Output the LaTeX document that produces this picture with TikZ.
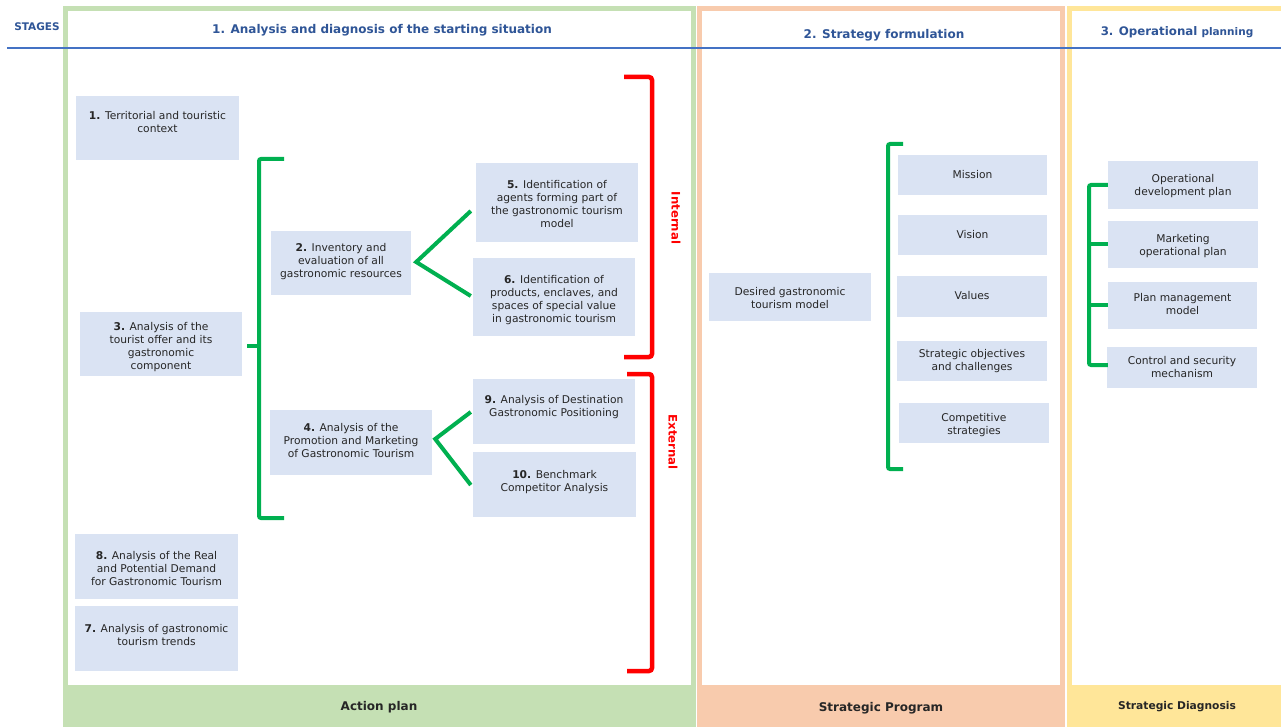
\documentclass[tikz,border=0pt]{standalone}
\usepackage{fontspec}
\setmainfont{DejaVu Sans}
\usetikzlibrary{fit,calc}
\definecolor{pgreen}{HTML}{C5E0B4}
\definecolor{porange}{HTML}{F8CBAD}
\definecolor{pyellow}{HTML}{FFE699}
\definecolor{boxfill}{HTML}{DAE3F3}
\definecolor{brgreen}{HTML}{00B050}
\definecolor{hblue}{HTML}{2F5597}
\definecolor{lblue}{HTML}{4472C4}
\definecolor{txtc}{HTML}{262626}
\newcommand\gbox[7]{%
  \node[bxs, fit={(#2,#3) (#4,#5)}] (#1) {};
  \node[txt] (#1t) at ({(#2+#4)/2},#6) {#7};}
\begin{document}
\begin{tikzpicture}[x=1pt,y=-1pt,
  bxs/.style={fill=boxfill, inner sep=0pt, draw=none},
  txt/.style={align=center, inner sep=0pt, text=txtc, font=\fontsize{10.7}{13}\selectfont},
  hdr/.style={text=hblue, font=\fontsize{12}{14}\selectfont\bfseries, inner sep=0pt},
  foot/.style={text=txtc, font=\fontsize{12}{14}\selectfont\bfseries, inner sep=0pt},
  gbr/.style={draw=brgreen, line width=4pt, rounded corners=2pt},
  gline/.style={draw=brgreen, line width=4pt},
  rbr/.style={draw=red, line width=4.5pt, rounded corners=3pt},
  side/.style={text=red, font=\fontsize{11.7}{14}\selectfont\bfseries, rotate=-90, inner sep=0pt}]
\useasboundingbox (0,0) rectangle (1281,727);
\fill[white] (0,0) rectangle (1281,727);
% panels
\fill[pgreen] (63,6) rectangle (696,727);
\fill[white] (68,11) rectangle (691,685);
\fill[porange] (697,6) rectangle (1065,727);
\fill[white] (702,11) rectangle (1060,685);
\fill[pyellow] (1067,6) rectangle (1281,727);
\fill[white] (1072,11) rectangle (1281,685);
\draw[lblue, line width=1.2pt] (7,48) -- (1281,48);
% headers
\node[hdr, font=\fontsize{10.5}{12}\selectfont\bfseries] (stages) at (37,27) {STAGES};
\node[hdr] (h1) at (382,30) {1. Analysis and diagnosis of the starting situation};
\node[hdr] (h2) at (884,35) {2. Strategy formulation};
\node[hdr, font=\fontsize{11.8}{14}\selectfont\bfseries] (h3) at (1177,32) {3. Operational {\fontsize{10.5}{12}\selectfont planning}};
% footers
\node[foot] (f1) at (379,707) {Action plan};
\node[foot] (f2) at (881,708) {Strategic Program};
\node[foot, font=\fontsize{10.7}{13}\selectfont\bfseries] (f3) at (1177,707) {Strategic Diagnosis};
% boxes panel 1
\gbox{b1}{76}{96}{239}{160}{122}{\textbf{1.} Territorial and touristic\\context}
\gbox{b3}{80}{312}{242}{376}{347}{\textbf{3.} Analysis of the\\tourist offer and its\\gastronomic\\component}
\gbox{b2}{271}{231}{411}{295}{262}{\textbf{2.} Inventory and\\evaluation of all\\gastronomic resources}
\gbox{b5}{476}{163}{638}{242}{204}{\textbf{5.} Identification of\\agents forming part of\\the gastronomic tourism\\model}
\gbox{b6}{473}{258}{635}{336}{300}{\textbf{6.} Identification of\\products, enclaves, and\\spaces of special value\\in gastronomic tourism}
\gbox{b4}{270}{410}{432}{475}{441}{\textbf{4.} Analysis of the\\Promotion and Marketing\\of Gastronomic Tourism}
\gbox{b9}{473}{379}{635}{444}{407}{\textbf{9.} Analysis of Destination\\Gastronomic Positioning}
\gbox{b10}{473}{452}{636}{517}{482}{\textbf{10.} Benchmark\\Competitor Analysis}
\gbox{b8}{75}{534}{238}{599}{569}{\textbf{8.} Analysis of the Real\\and Potential Demand\\for Gastronomic Tourism}
\gbox{b7}{75}{606}{238}{671}{635}{\textbf{7.} Analysis of gastronomic\\tourism trends}
% panel 2
\gbox{bd}{709}{273}{871}{321}{298}{Desired gastronomic\\tourism model}
\gbox{bm}{898}{155}{1047}{195}{175}{Mission}
\gbox{bv}{898}{215}{1047}{255}{235}{Vision}
\gbox{bva}{897}{276}{1047}{317}{296}{Values}
\gbox{bso}{897}{341}{1047}{381}{361}{Strategic objectives\\and challenges}
\gbox{bcs}{899}{403}{1049}{443}{425}{Competitive\\strategies}
% panel 3
\gbox{bod}{1108}{161}{1258}{209}{186}{Operational\\development plan}
\gbox{bmo}{1108}{221}{1258}{268}{246}{Marketing\\operational plan}
\gbox{bpm}{1108}{282}{1257}{329}{304}{Plan management\\model}
\gbox{bcm}{1107}{347}{1257}{388}{367}{Control and security\\mechanism}
% green brackets panel 1
\draw[gbr] (284,159) -- (259,159) -- (259,518) -- (284,518);
\coordinate (t3) at ($(b3.east)+(5,2)$);
\draw[gline] (t3) -- (259,346);
\coordinate (v2) at ($(b2.east)+(5,-1)$);
\draw[gline, line join=miter] ($(b5.west)+(-5,8.5)$) -- (v2) -- ($(b6.west)+(-2,-1)$);
\coordinate (v4) at ($(b4.east)+(3,-3.5)$);
\draw[gline, line join=miter] ($(b9.west)+(-2,0.5)$) -- (v4) -- ($(b10.west)+(-2,0.5)$);
% red brackets
\draw[rbr] (624,77) -- (652,77) -- (652,357) -- (624,357);
\draw[rbr] (627,374) -- (652,374) -- (652,671) -- (627,671);
\node[side] (lint) at (676,218) {Internal};
\node[side] (lext) at (673,442) {External};
% panel 2 bracket
\draw[gbr] (903,144) -- (888,144) -- (888,469) -- (903,469);
% panel 3 bracket
\draw[gbr] ($(bod.west)+(0,0)$) -- (1089,185) -- (1089,365) -- ($(bcm.west)+(1,-2.5)$);
\draw[gline] (1089,244) -- ($(bmo.west)+(0,-0.5)$);
\draw[gline] (1089,305) -- ($(bpm.west)+(0,-0.5)$);
\end{tikzpicture}
\end{document}
